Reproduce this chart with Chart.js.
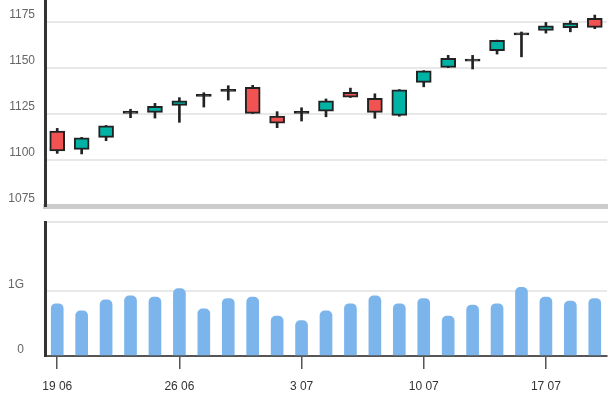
<!DOCTYPE html>
<html>
<head>
<meta charset="utf-8">
<script src="https://cdn.jsdelivr.net/npm/chart.js@4"></script>
<style>
    html, body { margin: 0; padding: 0; background: #fff; }
    #wrap { position: relative; width: 615px; height: 397px; }
    canvas { position: absolute; left: 0; top: 0; }
</style>
</head>
<body>
<div id="wrap">
    <canvas id="volumeChart" width="615" height="397"></canvas>
    <canvas id="priceChart" width="615" height="397"></canvas>
</div>
<script>
const days = ['19 06', '20 06', '21 06', '22 06', '23 06',
              '26 06', '27 06', '28 06', '29 06', '30 06',
              '3 07', '4 07', '5 07', '6 07', '7 07',
              '10 07', '11 07', '12 07', '13 07', '14 07',
              '17 07', '18 07', '19 07'];
const tickDays = ['19 06', '26 06', '3 07', '10 07', '17 07'];

const opens  = [1115.8, 1105.8, 1112.3, 1125.3, 1125.9, 1129.7, 1134.6, 1137.3, 1139.5, 1123.9, 1125.4, 1126.6,
                1136.8, 1133.5, 1124.3, 1142.2, 1150.4, 1153.8, 1159.4, 1168.0, 1170.4, 1171.9, 1177.0];
const closes = [1104.9, 1112.1, 1118.6, 1126.6, 1129.2, 1132.2, 1134.6, 1138.5, 1125.4, 1120.1, 1125.4, 1132.2,
                1134.2, 1125.9, 1138.2, 1148.5, 1155.3, 1153.8, 1165.1, 1169.2, 1173.0, 1174.5, 1172.1];
const highs  = [1117.2, 1112.3, 1118.8, 1127.6, 1130.8, 1133.9, 1136.6, 1140.4, 1140.6, 1126.3, 1128.4, 1133.2,
                1139.1, 1136.0, 1138.3, 1148.6, 1156.9, 1156.9, 1165.2, 1169.6, 1174.8, 1175.7, 1178.8];
const lows   = [1103.6, 1103.3, 1110.5, 1123.0, 1122.8, 1120.5, 1128.8, 1132.6, 1125.3, 1117.6, 1121.2, 1123.5,
                1134.0, 1122.7, 1123.8, 1139.8, 1150.2, 1149.5, 1157.6, 1156.1, 1169.0, 1169.7, 1171.4];
const volumes = [0.80, 0.69, 0.86, 0.92, 0.90, 1.03, 0.72, 0.88, 0.90, 0.61, 0.54, 0.69,
                 0.80, 0.92, 0.80, 0.88, 0.61, 0.78, 0.80, 1.05, 0.90, 0.84, 0.88].map(v => v * 1e9);

const priceTicks = [1075, 1100, 1125, 1150, 1175];
const volumeTicks = [0, 1e9];

const FONT = { family: '"Liberation Sans", Arial, sans-serif', size: 12 };
const UP = '#00b3a4';
const DOWN = '#f05352';
const EDGE = '#222';

// very thin bodies end up as solid outline colour
function bodyColor(o, c) {
    if (Math.abs(c - o) < 1.5) return EDGE;
    return c >= o ? UP : DOWN;
}

// fixed axis width, no extra padding from the end labels
function fitY(s) {
    s.width = 45;
    s.paddingTop = 0;
    s.paddingBottom = 0;
}

// price panel: wicks behind, bodies on top
new Chart(document.getElementById('priceChart'), {
    type: 'bar',
    data: {
        labels: days,
        datasets: [{
            data: lows.map((l, i) => [l, highs[i]]),
            backgroundColor: EDGE,
            barThickness: 2,
            grouped: false,
            order: 2
        }, {
            data: opens.map((o, i) => [o, closes[i]]),
            backgroundColor: opens.map((o, i) => bodyColor(o, closes[i])),
            borderColor: EDGE,
            borderWidth: 2,
            borderSkipped: false,
            barThickness: 15,
            minBarLength: 2,
            grouped: false,
            order: 1
        }]
    },
    options: {
        responsive: false,
        animation: false,
        devicePixelRatio: 1,
        layout: { padding: { left: 0, right: 8, top: 0, bottom: 191 } },
        plugins: { legend: { display: false }, tooltip: { enabled: false } },
        scales: {
            x: {
                ticks: { display: false },
                grid: { display: false, drawTicks: false },
                border: { color: '#cccccc', width: 5 },
                afterFit: s => { s.height = 0; s.paddingLeft = 0; s.paddingRight = 0; }
            },
            y: {
                min: 1075,
                max: 1187,
                afterBuildTicks: s => { s.ticks = priceTicks.map(v => ({ value: v })); },
                afterFit: fitY,
                ticks: { color: '#666', font: FONT, padding: 10, labelOffset: -7, callback: v => String(v) },
                grid: { color: '#e8e8e8', lineWidth: 2, drawTicks: false },
                border: { color: '#333', width: 3 }
            }
        }
    }
});

// volume panel
new Chart(document.getElementById('volumeChart'), {
    type: 'bar',
    data: {
        labels: days,
        datasets: [{
            data: volumes,
            backgroundColor: '#7cb5ec',
            barThickness: 12,
            borderRadius: { topLeft: 5, topRight: 5, bottomLeft: 0, bottomRight: 0 },
            borderSkipped: 'start'
        }]
    },
    options: {
        responsive: false,
        animation: false,
        devicePixelRatio: 1,
        layout: { padding: { left: 0, right: 8, top: 222, bottom: 0 } },
        plugins: { legend: { display: false }, tooltip: { enabled: false } },
        scales: {
            x: {
                afterFit: s => { s.height = 41; s.paddingLeft = 0; s.paddingRight = 0; },
                ticks: {
                    color: '#333',
                    font: FONT,
                    padding: 10,
                    autoSkip: false,
                    maxRotation: 0,
                    callback: function (v, i) { return tickDays.includes(days[i]) ? days[i] : ''; }
                },
                grid: {
                    offset: false,
                    drawOnChartArea: false,
                    tickLength: 13,
                    lineWidth: 1.5,
                    color: ctx => tickDays.includes(days[ctx.index]) ? '#555' : 'rgba(0,0,0,0)'
                },
                border: { color: '#555', width: 2 }
            },
            top: {
                type: 'category',
                position: 'top',
                labels: days,
                ticks: { display: false },
                grid: { display: false, drawTicks: false },
                border: { color: '#e6e6e6', width: 2 },
                afterFit: s => { s.height = 0; s.paddingLeft = 0; s.paddingRight = 0; }
            },
            y: {
                min: 0,
                max: 2.05e9,
                afterBuildTicks: s => { s.ticks = volumeTicks.map(v => ({ value: v })); },
                afterFit: fitY,
                ticks: {
                    color: '#666',
                    font: FONT,
                    padding: 21,
                    labelOffset: -6,
                    callback: v => v === 0 ? '0' : (v / 1e9) + 'G'
                },
                grid: { color: '#e8e8e8', lineWidth: 2, drawTicks: false },
                border: { color: '#333', width: 3 }
            }
        }
    }
});
</script>
</body>
</html>
